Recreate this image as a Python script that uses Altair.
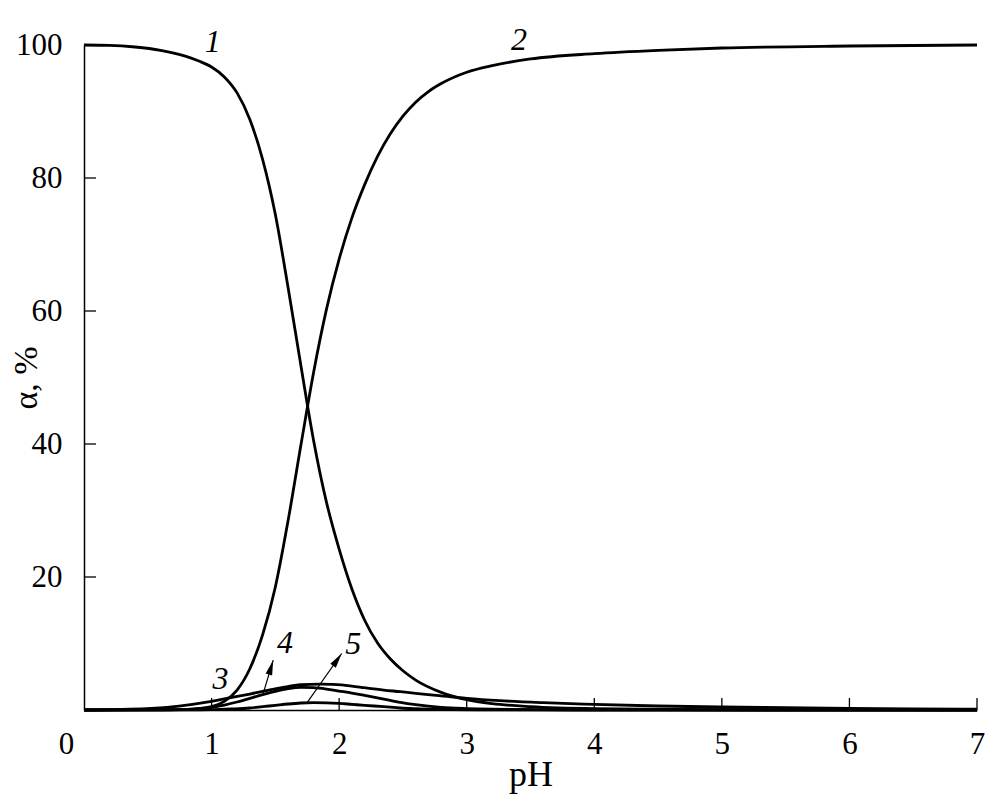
import math
import altair as alt
import pandas as pd

# ---------------- data ----------------
ph_1 = [0, 0.2, 0.4, 0.6, 0.8, 0.9, 1.0, 1.1, 1.2, 1.3, 1.4, 1.5, 1.6, 1.7,
        1.8, 1.9, 2.0, 2.1, 2.2, 2.3, 2.4, 2.5, 2.6, 2.8, 3.0, 3.2, 3.5, 4.0, 5.0, 7.0]
alpha_1 = [100, 99.95, 99.7, 99.2, 98.3, 97.6, 96.7, 95.2, 92.8, 88.8, 82.8, 74.5, 63.5, 51.8,
           40.5, 31.3, 24.2, 18.2, 13.5, 10.1, 7.7, 5.9, 4.5, 2.65, 1.55, 0.95, 0.5, 0.2, 0.05, 0]

ph_2 = [0, 0.5, 0.8, 0.9, 1.0, 1.1, 1.2, 1.3, 1.4, 1.5, 1.6, 1.7, 1.8, 1.9, 2.0,
        2.1, 2.2, 2.3, 2.4, 2.5, 2.6, 2.7, 2.8, 3.0, 3.2, 3.5, 4.0, 4.5, 5.0, 6.0, 7.0]
alpha_2 = [0, 0.02, 0.1, 0.25, 0.5, 1.3, 3.0, 6.2, 11.3, 18.5, 28.5, 39.8, 50.8, 60.2, 67.8,
           74.0, 79.0, 83.2, 86.6, 89.3, 91.4, 93.0, 94.2, 95.9, 96.9, 97.9, 98.7, 99.2, 99.55, 99.85, 100]

ph_3 = [0, 0.3, 0.65, 0.85, 1.0, 1.15, 1.3, 1.45, 1.56, 1.7, 1.85, 1.95, 2.1, 2.2, 2.35,
        2.48, 2.6, 2.74, 3.0, 3.26, 3.6, 4.0, 4.5, 5.0, 5.5, 6.0, 6.5, 7.0]
alpha_3 = [0, 0.1, 0.4, 0.85, 1.3, 1.85, 2.4, 3.0, 3.4, 3.8, 3.9, 3.85, 3.6, 3.35, 3.0,
           2.75, 2.5, 2.25, 1.75, 1.4, 1.1, 0.85, 0.6, 0.45, 0.35, 0.25, 0.18, 0.12]

ph_4 = [0, 0.6, 0.8, 1.0, 1.1, 1.2, 1.3, 1.4, 1.5, 1.6, 1.7, 1.8, 1.9, 2.0, 2.1, 2.2,
        2.35, 2.48, 2.6, 2.8, 3.0, 3.2, 3.6, 4.0, 5.0, 7.0]
alpha_4 = [0, 0.03, 0.1, 0.4, 0.75, 1.2, 1.75, 2.3, 2.8, 3.2, 3.4, 3.35, 3.15, 2.85, 2.55, 2.2,
           1.65, 1.15, 0.8, 0.4, 0.22, 0.12, 0.05, 0.02, 0.0, 0.0]

ph_5 = [0, 0.8, 1.0, 1.15, 1.3, 1.4, 1.5, 1.6, 1.7, 1.8, 1.9, 2.0, 2.1, 2.2, 2.35,
        2.48, 2.6, 2.8, 3.2, 4.0, 7.0]
alpha_5 = [0, 0.01, 0.05, 0.15, 0.3, 0.5, 0.7, 0.9, 1.05, 1.1, 1.08, 1.0, 0.85, 0.7, 0.5,
           0.3, 0.2, 0.1, 0.02, 0, 0]

curve_names = ["1", "2", "3", "4", "5"]

# curve number labels
label_text = ["1", "2", "3", "4", "5"]
label_ph = [1.01, 3.41, 1.07, 1.575, 2.11]
label_alpha = [100.4, 100.7, 4.7, 10.1, 9.9]

# leader arrows (for labels 4 and 5)
arrow_ph_start = [1.405, 1.745]
arrow_alpha_start = [2.5, 1.0]
arrow_ph_end = [1.483, 2.02]
arrow_alpha_end = [7.5, 8.5]

x_tick_values = [0, 1, 2, 3, 4, 5, 6, 7]
x_inner_ticks = [1, 2, 3, 4, 5, 6, 7]
y_tick_values = [20, 40, 60, 80, 100]

# ---------------- build tables ----------------
rows = []
for name, xs, ys in zip(curve_names, [ph_1, ph_2, ph_3, ph_4, ph_5],
                        [alpha_1, alpha_2, alpha_3, alpha_4, alpha_5]):
    for x, y in zip(xs, ys):
        rows.append({"curve": name, "pH": x, "alpha": y})
df = pd.DataFrame(rows)

W, H = 893, 665
XMAX, YMAX = 7.0, 100.0

angles = []
for x1, y1, x2, y2 in zip(arrow_ph_start, arrow_alpha_start, arrow_ph_end, arrow_alpha_end):
    dx = (x2 - x1) * W / XMAX
    dy = (y2 - y1) * H / YMAX
    angles.append(math.degrees(math.atan2(dx, dy)))

arrows_df = pd.DataFrame({"x1": arrow_ph_start, "y1": arrow_alpha_start,
                          "x2": arrow_ph_end, "y2": arrow_alpha_end, "ang": angles})
labels_df = pd.DataFrame({"t": label_text, "pH": label_ph, "alpha": label_alpha})

FONT = "Liberation Serif"
xscale = alt.Scale(domain=[0, XMAX], nice=False, zero=False)
yscale = alt.Scale(domain=[0, YMAX], nice=False, zero=False)

x_axis = alt.Axis(
    values=x_tick_values, format="d", ticks=False, grid=False,
    domainColor="black", domainWidth=1.5,
    labelFont=FONT, labelFontSize=31, labelColor="black", labelPadding=19,
    labelOffset=alt.ExprRef(expr="datum.value == 0 ? -18 : 0"),
    labelFlush=False, labelOverlap=False,
    titleFont=FONT, titleFontSize=36, titleFontWeight="normal",
    titleColor="black", titleBaseline="top", titleY=47)
y_axis = alt.Axis(
    values=y_tick_values, format="d", ticks=False, grid=False,
    domainColor="black", domainWidth=1.5,
    labelFont=FONT, labelFontSize=31, labelColor="black", labelPadding=22,
    labelFlush=False, labelOverlap=False,
    titleFont=FONT, titleFontSize=34, titleFontWeight="normal",
    titleColor="black", titleBaseline="middle", titleAlign="center",
    titleAngle=270, titleX=-58, titleY=H / 2)

XT, YT = "pH", "α, %"

lines = alt.Chart(df).mark_line(color="black", strokeWidth=2.8, interpolate="monotone").encode(
    x=alt.X("pH:Q", scale=xscale, axis=x_axis, title=XT),
    y=alt.Y("alpha:Q", scale=yscale, axis=y_axis, title=YT),
    detail="curve:N",
)

xticks = alt.Chart(pd.DataFrame({"t": x_inner_ticks})).mark_rule(color="black", strokeWidth=1.3).encode(
    x=alt.X("t:Q", scale=xscale, axis=x_axis, title=XT),
    y=alt.value(H), y2=alt.value(H - 12),
)
yticks = alt.Chart(pd.DataFrame({"t": y_tick_values})).mark_rule(color="black", strokeWidth=1.3).encode(
    y=alt.Y("t:Q", scale=yscale, axis=y_axis, title=YT),
    x=alt.value(0), x2=alt.value(12),
)

arrow_lines = alt.Chart(arrows_df).mark_rule(color="black", strokeWidth=1.2).encode(
    x=alt.X("x1:Q", scale=xscale, axis=x_axis, title=XT),
    y=alt.Y("y1:Q", scale=yscale, axis=y_axis, title=YT),
    x2="x2:Q", y2="y2:Q",
)
arrow_heads = alt.Chart(arrows_df).mark_point(
    shape="M0,0 L0.45,2 L-0.45,2 Z", filled=True, color="black", opacity=1, size=225,
).encode(
    x=alt.X("x2:Q", scale=xscale, axis=x_axis, title=XT),
    y=alt.Y("y2:Q", scale=yscale, axis=y_axis, title=YT),
    angle=alt.Angle("ang:Q", scale=None),
)

labels = alt.Chart(labels_df).mark_text(
    font=FONT, fontStyle="italic", fontSize=32, color="black", align="center", baseline="middle",
).encode(
    x=alt.X("pH:Q", scale=xscale, axis=x_axis, title=XT),
    y=alt.Y("alpha:Q", scale=yscale, axis=y_axis, title=YT),
    text="t:N",
)

chart = alt.layer(lines, xticks, yticks, arrow_lines, arrow_heads, labels).properties(
    width=W, height=H,
    autosize=alt.AutoSizeParams(type="none"),
    padding={"left": 76, "top": 37, "right": 19, "bottom": 90},
    background="white",
).configure_view(stroke=None)

chart.save("out.html", embed_options={"renderer": "svg", "actions": False})
